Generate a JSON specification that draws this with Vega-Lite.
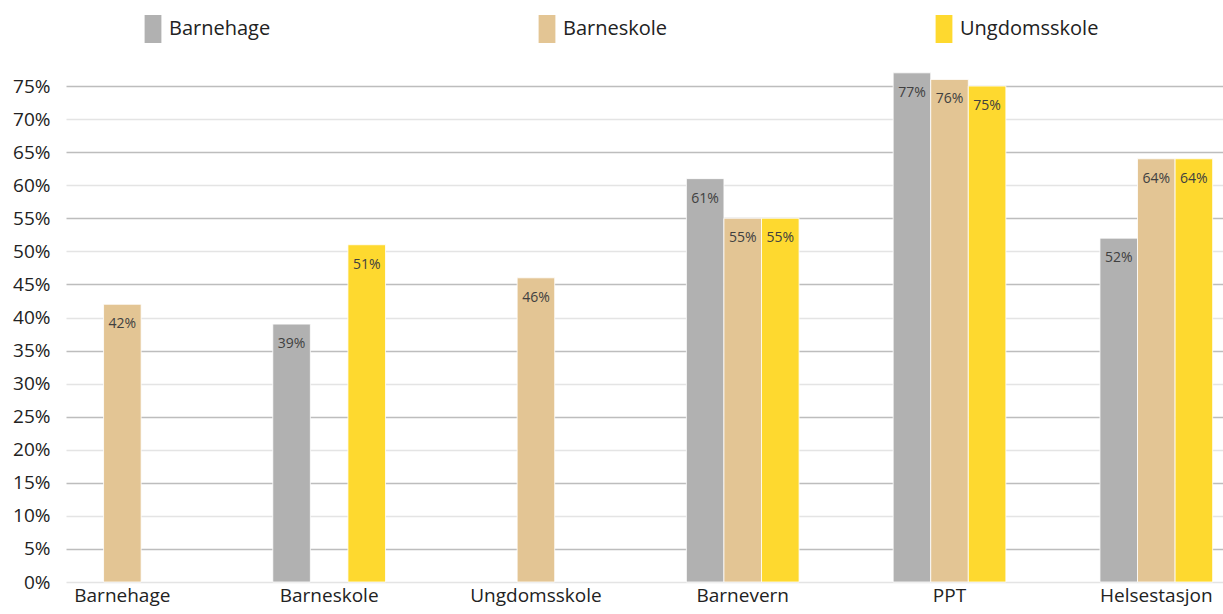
{
  "$schema": "https://vega.github.io/schema/vega-lite/v6.json",
  "width": 1157,
  "height": 529,
  "autosize": "none",
  "padding": {"left": 66, "top": 53, "right": 0, "bottom": 32},
  "background": "white",
  "config": {
    "view": {"stroke": null},
    "font": "Open Sans"
  },
  "data": {
    "values": [
      {"category": "Barnehage", "series": "Barneskole", "value": 42},
      {"category": "Barneskole", "series": "Barnehage", "value": 39},
      {"category": "Barneskole", "series": "Ungdomsskole", "value": 51},
      {"category": "Ungdomsskole", "series": "Barneskole", "value": 46},
      {"category": "Barnevern", "series": "Barnehage", "value": 61},
      {"category": "Barnevern", "series": "Barneskole", "value": 55},
      {"category": "Barnevern", "series": "Ungdomsskole", "value": 55},
      {"category": "PPT", "series": "Barnehage", "value": 77},
      {"category": "PPT", "series": "Barneskole", "value": 76},
      {"category": "PPT", "series": "Ungdomsskole", "value": 75},
      {"category": "Helsestasjon", "series": "Barnehage", "value": 52},
      {"category": "Helsestasjon", "series": "Barneskole", "value": 64},
      {"category": "Helsestasjon", "series": "Ungdomsskole", "value": 64}
    ]
  },
  "transform": [{"calculate": "datum.value + '%'", "as": "label"}],
  "encoding": {
    "x": {
      "field": "category",
      "type": "nominal",
      "sort": ["Barnehage", "Barneskole", "Ungdomsskole", "Barnevern", "PPT", "Helsestasjon"],
      "scale": {"paddingInner": 0.455, "paddingOuter": 0.025, "align": 0},
      "axis": {
        "title": null,
        "labelAngle": 0,
        "ticks": false,
        "domain": false,
        "labelFontSize": 19,
        "labelColor": "#222222",
        "labelPadding": 4
      }
    },
    "xOffset": {
      "field": "series",
      "type": "nominal",
      "sort": ["Barnehage", "Barneskole", "Ungdomsskole"],
      "scale": {"paddingInner": 0, "paddingOuter": 0}
    },
    "y": {
      "field": "value",
      "type": "quantitative",
      "scale": {"domain": [0, 80], "nice": false},
      "axis": {
        "title": null,
        "values": [0, 5, 10, 15, 20, 25, 30, 35, 40, 45, 50, 55, 60, 65, 70, 75],
        "labelExpr": "datum.value + '%'",
        "ticks": false,
        "domain": false,
        "labelFontSize": 19,
        "labelColor": "#222222",
        "labelPadding": 16,
        "gridWidth": 1.6,
        "gridColor": {"condition": {"test": "datum.value % 10 == 5", "value": "#bdbdbd"}, "value": "#e4e4e4"}
      }
    }
  },
  "layer": [
    {
      "mark": {"type": "bar", "stroke": "white", "strokeWidth": 0.8},
      "encoding": {
        "color": {
          "field": "series",
          "type": "nominal",
          "sort": ["Barnehage", "Barneskole", "Ungdomsskole"],
          "scale": {"domain": ["Barnehage", "Barneskole", "Ungdomsskole"], "range": ["#b1b1b1", "#e3c594", "#fed92f"]},
          "legend": {
            "title": null,
            "orient": "none",
            "legendX": 73,
            "legendY": -38,
            "direction": "horizontal",
            "columns": 3,
            "columnPadding": 262,
            "symbolType": "M-0.6,-1H0.6V1H-0.6Z",
            "symbolSize": 784,
            "symbolStrokeWidth": 0,
            "symbolOpacity": 1,
            "labelFontSize": 20,
            "labelColor": "#222222",
            "labelOffset": 2
          }
        }
      }
    },
    {
      "mark": {"type": "text", "baseline": "middle", "dy": 20, "fontSize": 14, "color": "#404040"},
      "encoding": {
        "text": {"field": "label", "type": "nominal"},
        "detail": {"field": "series"}
      }
    }
  ]
}
